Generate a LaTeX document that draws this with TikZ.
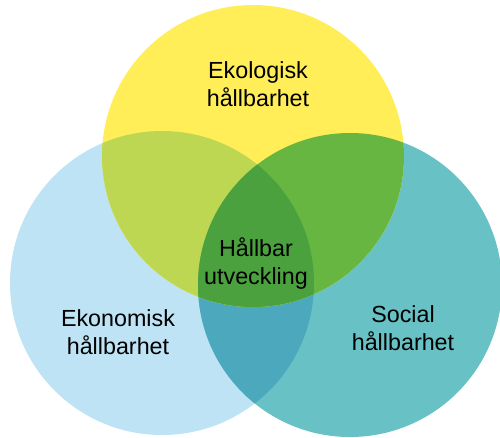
\documentclass[tikz,border=0pt]{standalone}
\usepackage{fontspec}
\setmainfont{Liberation Sans}
\definecolor{cY}{HTML}{FFEE58}
\definecolor{cB}{HTML}{BEE3F5}
\definecolor{cT}{HTML}{68C1C4}
\definecolor{cYB}{HTML}{BDD753}
\definecolor{cYT}{HTML}{67B641}
\definecolor{cBT}{HTML}{4CA9BD}
\definecolor{cAll}{HTML}{4BA13E}
\tikzset{lbl/.style={align=center, font=\fontsize{23.3}{28}\selectfont, text=black, inner sep=0pt}}
\begin{document}
\begin{tikzpicture}[x=1pt,y=-1pt]
\useasboundingbox (0,0) rectangle (500,438);
\def\Ycirc{(253,156) circle (151)}
\def\Bcirc{(162,283) circle (152)}
\def\Tcirc{(350,285) circle (152)}
\fill[cB] \Bcirc;
\fill[cT] \Tcirc;
\begin{scope}
\clip \Bcirc;
\fill[cBT] \Tcirc;
\end{scope}
\fill[cY] \Ycirc;
\begin{scope}
\clip \Ycirc;
\fill[cYB] \Bcirc;
\fill[cYT] \Tcirc;
\clip \Bcirc;
\fill[cAll] \Tcirc;
\end{scope}
\node[lbl] (eko) at (258,84) {Ekologisk\\hållbarhet};
\node[lbl] (mid) at (256,264) {Hållbar\\utveckling};
\node[lbl] (ekon) at (118,332) {Ekonomisk\\hållbarhet};
\node[lbl] (soc) at (403,328) {Social\\hållbarhet};
\end{tikzpicture}
\end{document}
